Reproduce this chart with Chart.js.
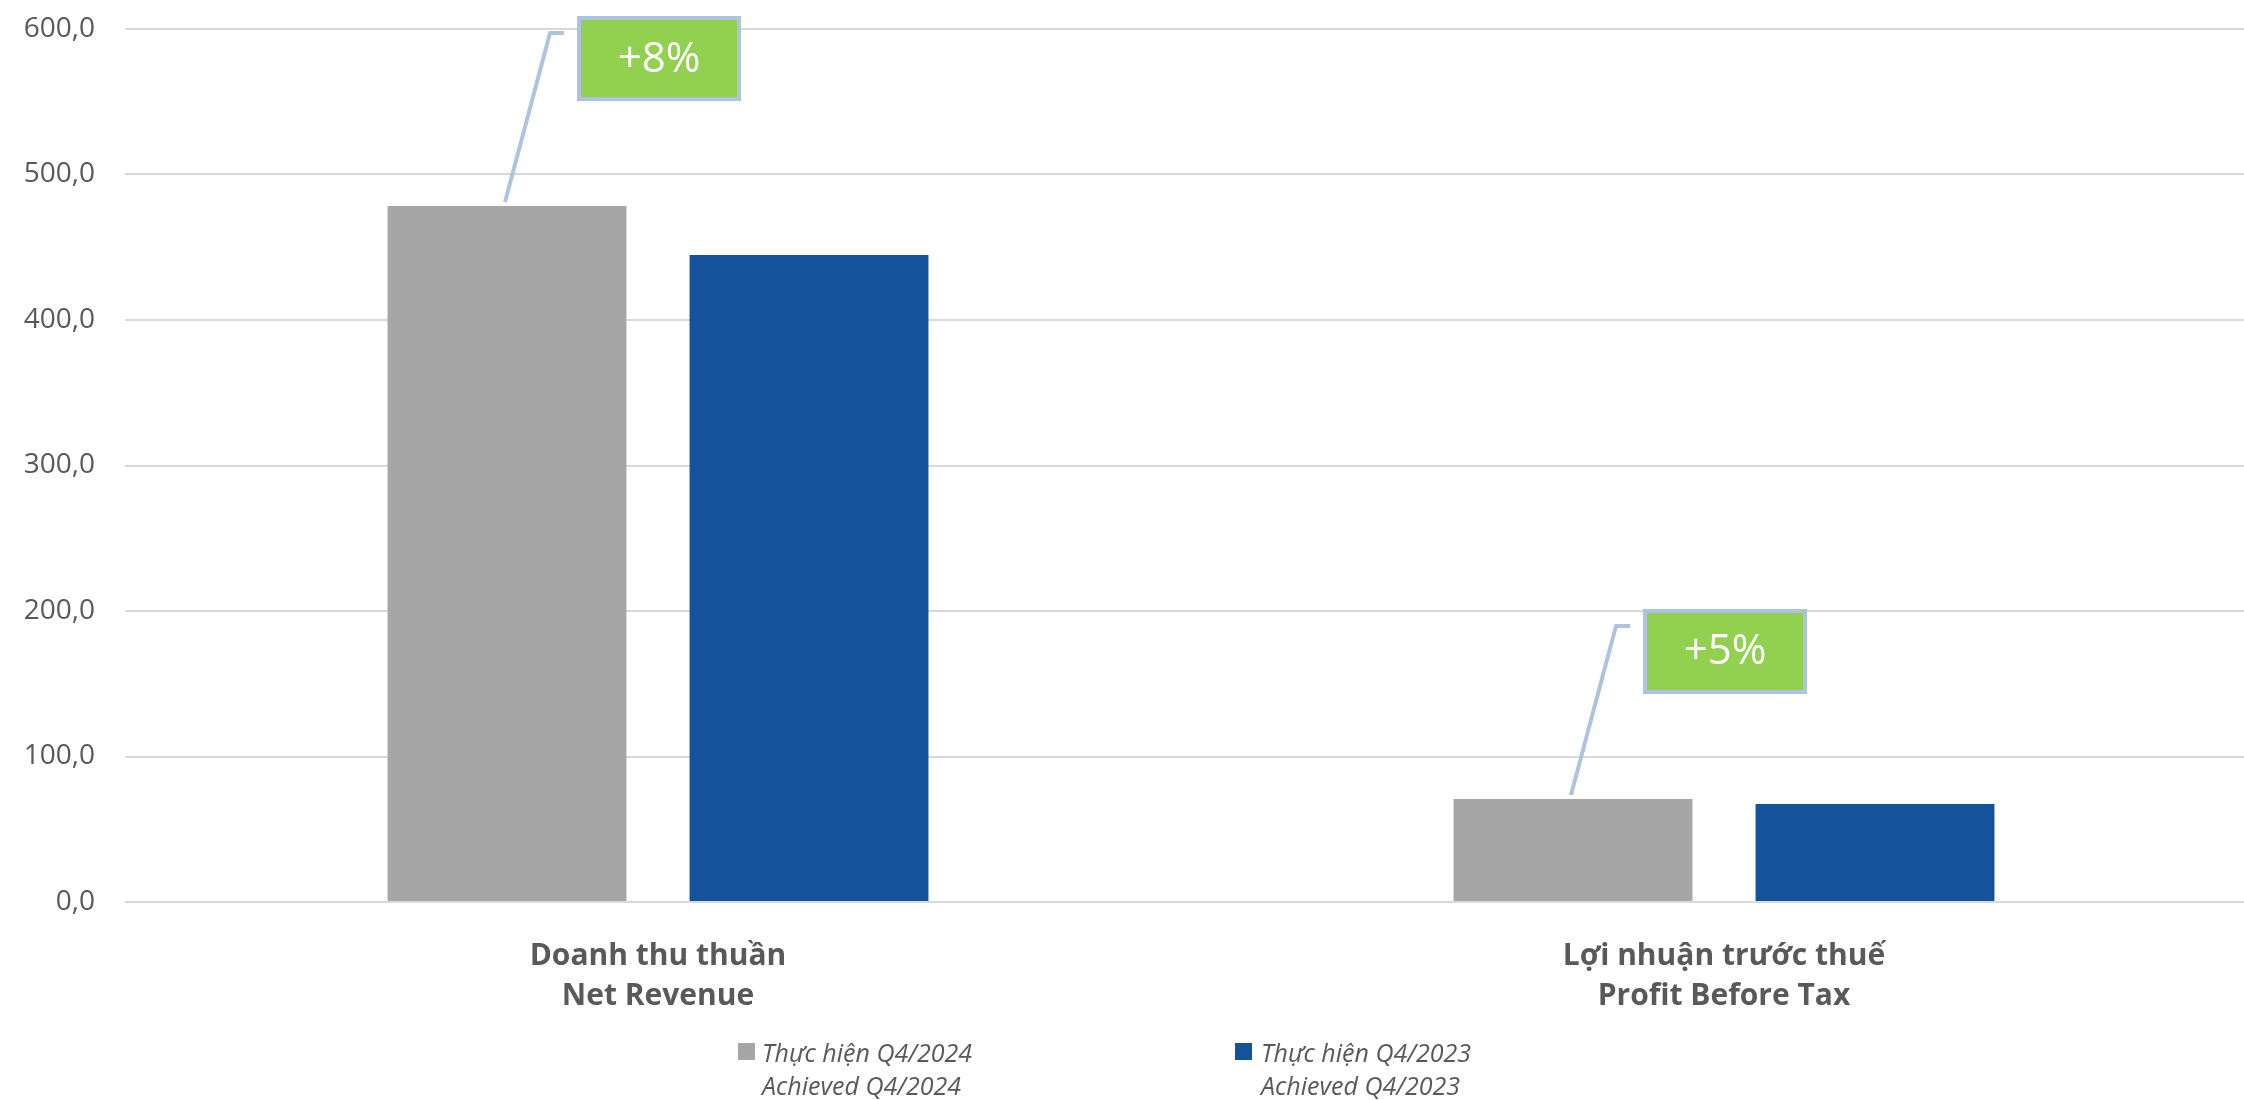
<!DOCTYPE html>
<html><head><meta charset="utf-8">
<script src="https://cdn.jsdelivr.net/npm/chart.js@4.4.1/dist/chart.umd.min.js"></script>
<style>
html,body{margin:0;padding:0;background:#fff;overflow:hidden;width:2244px;height:1100px}
#wrap{position:absolute;left:0;top:0;width:2257px;height:1100px}
</style></head>
<body><div id="wrap"><canvas id="c"></canvas></div>
<script>
// ---- data ----
const categories = [['Doanh thu thuần', 'Net Revenue'], ['Lợi nhuận trước thuế', 'Profit Before Tax']];
const seriesNames = [['Thực hiện Q4/2024', 'Achieved Q4/2024'], ['Thực hiện Q4/2023', 'Achieved Q4/2023']];
const achieved2024 = [478.3, 70.8];
const achieved2023 = [444.6, 67.4];
const growthLabels = ['+8%', '+5%'];
const yMin = 0, yMax = 600, yStep = 100;

// ---- style ----
const GRAY = '#a6a6a6', BLUE = '#14539c', GREEN = '#92d050', LEADER = '#adc3e0', TEXT = '#595959';

const calloutPlugin = {
  id: 'callouts',
  afterDatasetsDraw(chart) {
    const ctx = chart.ctx;
    const meta = chart.getDatasetMeta(0);
    meta.data.forEach((bar, i) => {
      const x = bar.x, top = bar.y;
      ctx.save();
      // leader line
      ctx.strokeStyle = LEADER;
      ctx.lineWidth = 4;
      ctx.lineJoin = 'round';
      ctx.beginPath();
      ctx.moveTo(x - 2, top - 4);
      ctx.lineTo(x + 43, top - 173);
      ctx.lineTo(x + 57, top - 173);
      ctx.stroke();
      // box
      const bx = x + 70, by = top - 190, bw = 164, bh = 85;
      ctx.fillStyle = GREEN;
      ctx.fillRect(bx, by, bw, bh);
      ctx.strokeStyle = LEADER;
      ctx.lineWidth = 4;
      ctx.strokeRect(bx + 2, by + 2, bw - 4, bh - 4);
      ctx.fillStyle = '#ffffff';
      ctx.font = '42px "Open Sans"';
      ctx.textAlign = 'center';
      ctx.textBaseline = 'middle';
      ctx.fillText(growthLabels[i], bx + bw / 2, by + bh / 2 + 1);
      ctx.restore();
    });
  },
  afterDraw(chart) {
    // legend
    const ctx = chart.ctx;
    const cx = 1122;
    const items = [
      { color: GRAY, mx: cx - 384, tx: cx - 360, lines: seriesNames[0] },
      { color: BLUE, mx: cx + 113, tx: cx + 139, lines: seriesNames[1] }
    ];
    const base = chart.chartArea.bottom;
    ctx.save();
    ctx.font = 'italic 25px "Open Sans"';
    ctx.textAlign = 'left';
    ctx.textBaseline = 'alphabetic';
    items.forEach(it => {
      ctx.fillStyle = it.color;
      ctx.fillRect(it.mx, base + 141, 17, 17);
      ctx.fillStyle = TEXT;
      ctx.fillText(it.lines[0], it.tx, base + 160);
      ctx.fillText(it.lines[1], it.tx, base + 193);
    });
    ctx.restore();
  }
};

new Chart(document.getElementById('c'), {
  type: 'bar',
  data: {
    labels: categories,
    datasets: [
      { label: seriesNames[0].join(' '), data: achieved2024, backgroundColor: GRAY,
        categoryPercentage: 0.5666, barPercentage: 0.791 },
      { label: seriesNames[1].join(' '), data: achieved2023, backgroundColor: BLUE,
        categoryPercentage: 0.5666, barPercentage: 0.791 }
    ]
  },
  options: {
    responsive: true,
    maintainAspectRatio: false,
    animation: false,
    layout: { padding: { top: 29, left: 0, right: 0, bottom: 0 } },
    plugins: { legend: { display: false }, tooltip: { enabled: false } },
    scales: {
      x: {
        offset: true,
        grid: { display: false },
        border: { display: false },
        ticks: {
          color: TEXT,
          padding: 26,
          font: { family: 'Open Sans', weight: 'bold', size: 30, lineHeight: 1.34 },
          maxRotation: 0, autoSkip: false
        },
        afterFit(s) { s.height = 198; s.paddingLeft = 0; s.paddingRight = 0; }
      },
      y: {
        min: yMin, max: yMax,
        grid: { color: '#d9d9d9', lineWidth: 2, drawTicks: false },
        border: { display: false },
        ticks: {
          stepSize: yStep,
          color: TEXT,
          padding: 30,
          font: { family: 'Open Sans', size: 28 },
          callback: v => v.toFixed(1).replace('.', ',')
        },
        afterFit(s) { s.width = 125; s.paddingTop = 0; s.paddingBottom = 0; }
      }
    }
  },
  plugins: [calloutPlugin]
});
</script>
</body></html>
